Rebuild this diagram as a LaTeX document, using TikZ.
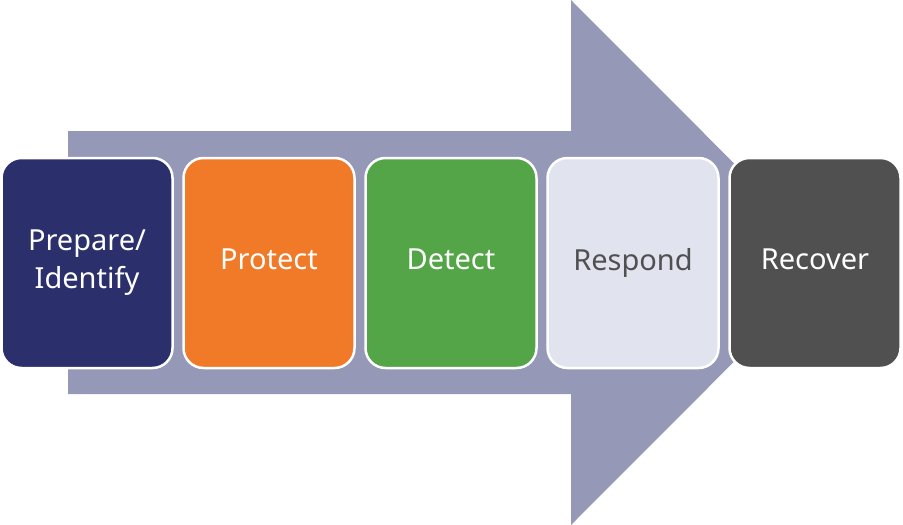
\documentclass[tikz,border=0pt]{standalone}
\usepackage{fontspec}
\setmainfont{Noto Sans}
\usetikzlibrary{positioning}
\definecolor{azulmarino}{HTML}{2B2F6B}
\definecolor{naranjaproteger}{HTML}{F07A28}
\definecolor{verdedetectar}{HTML}{53A548}
\definecolor{lilaclaro}{HTML}{E1E3EF}
\definecolor{grisoscuro}{HTML}{505050}
\definecolor{lavanda}{HTML}{9598B6}
\colorlet{colPreparar}{azulmarino}
\colorlet{colProteger}{naranjaproteger}
\colorlet{colDetectar}{verdedetectar}
\colorlet{colResponder}{lilaclaro}
\colorlet{colRecuperar}{grisoscuro}
\colorlet{colFlecha}{lavanda}
\tikzset{
  cajaBase/.style={
    draw=white, line width=2.5pt, rounded corners=20pt,
    minimum width=171pt, minimum height=210pt,
    align=center, font=\fontsize{29}{38}\selectfont, text=white,
    execute at begin node=\vphantom{Ip}
  },
  cajaPreparar/.style={cajaBase, fill=colPreparar},
  cajaProteger/.style={cajaBase, fill=colProteger},
  cajaDetectar/.style={cajaBase, fill=colDetectar},
  cajaResponder/.style={cajaBase, fill=colResponder, text=grisoscuro},
  cajaRecuperar/.style={cajaBase, fill=colRecuperar},
  flechaFondo/.style={fill=colFlecha},
}

\begin{document}
\begin{tikzpicture}[x=1pt, y=-1pt, node distance=8.5pt]
    \useasboundingbox (0,0) rectangle (903,525);
    % big arrow behind the boxes
    \fill[flechaFondo] (68,131) -- (571,131) -- (571,0) -- (833,262.5)
      -- (571,525) -- (571,394) -- (68,394) -- cycle;
    \node[cajaPreparar] (prep) at (87,263) {Prepare/\\Identify};
    \node[cajaProteger, right=of prep] (prot) {Protect};
    \node[cajaDetectar, right=of prot] (detc) {Detect};
    \node[cajaResponder, right=of detc] (resp) {Respond};
    \node[cajaRecuperar, right=of resp] (recu) {Recover};
  \end{tikzpicture}
\end{document}
